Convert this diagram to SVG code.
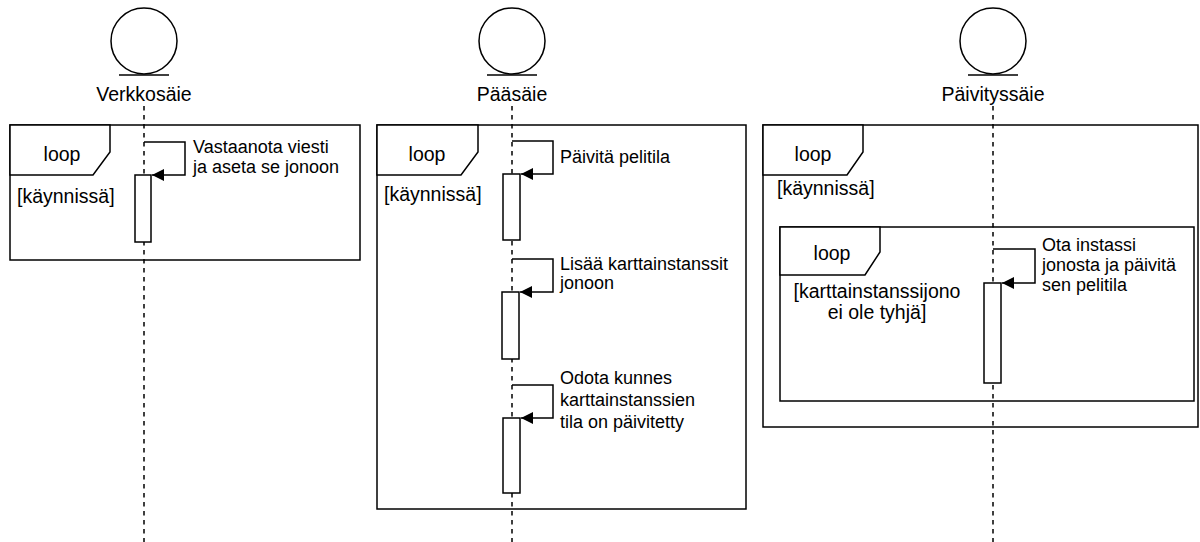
<svg xmlns="http://www.w3.org/2000/svg" width="1200" height="542" viewBox="0 0 1200 542">
  <style>
    text { font-family: "Liberation Sans", Arial, Helvetica, sans-serif; font-size: 18px; fill: #000; }
    .big { font-size: 19.5px; }
    .mid { text-anchor: middle; }
    .frame { fill: none; stroke: #000; stroke-width: 1.5; }
    .tab { fill: #fff; stroke: #000; stroke-width: 1.5; }
    .life { fill: none; stroke: #000; stroke-width: 1.5; stroke-dasharray: 4.5 4.5; }
    .head { fill: #fff; stroke: #000; stroke-width: 1.5; }
    .act { fill: #fff; stroke: #000; stroke-width: 1.5; }
    .msg { fill: none; stroke: #000; stroke-width: 1.5; }
  </style>
  <defs>
    <marker id="arrow" viewBox="0 0 12 12" refX="12" refY="6" markerWidth="12" markerHeight="12" markerUnits="userSpaceOnUse" orient="auto">
      <path d="M0,0 L12,6 L0,12 Z" fill="#000"/>
    </marker>
  </defs>
  <rect width="1200" height="542" fill="#fff"/>

  <!-- combined fragments (loop frames) -->
  <g id="frame-verkko">
    <rect class="frame" x="10" y="125" width="350" height="135"/>
    <path class="tab" d="M10,125 H110 V152 L93,175 H10 Z"/>
    <text class="mid big" x="62" y="161">loop</text>
    <text class="big" x="17" y="203">[käynnissä]</text>
  </g>
  <g id="frame-paa">
    <rect class="frame" x="377" y="125" width="369" height="384"/>
    <path class="tab" d="M377,125 H478 V152 L461,175 H377 Z"/>
    <text class="mid big" x="427" y="161">loop</text>
    <text class="big" x="384" y="201">[käynnissä]</text>
  </g>
  <g id="frame-paivitys">
    <rect class="frame" x="763" y="125" width="435" height="302"/>
    <path class="tab" d="M763,125 H863 V152 L847,175 H763 Z"/>
    <text class="mid big" x="813" y="161">loop</text>
    <text class="big" x="777" y="195">[käynnissä]</text>
  </g>
  <g id="frame-jono">
    <rect class="frame" x="780" y="227" width="414" height="174"/>
    <path class="tab" d="M780,227 H880 V252 L865,275 H780 Z"/>
    <text class="mid big" x="832" y="260">loop</text>
    <text class="mid big" x="877" y="298">[karttainstanssijono</text>
    <text class="mid big" x="877" y="319">ei ole tyhjä]</text>
  </g>

  <!-- lifelines -->
  <g id="lifeline-verkkosaie">
    <line class="life" x1="144" y1="106" x2="144" y2="542"/>
    <circle class="head" cx="144" cy="41" r="33"/>
    <line class="msg" x1="119" y1="75" x2="169" y2="75"/>
    <text class="mid big" x="144" y="101">Verkkosäie</text>
  </g>
  <g id="lifeline-paasaie">
    <line class="life" x1="512" y1="106" x2="512" y2="542"/>
    <circle class="head" cx="512" cy="41" r="33"/>
    <line class="msg" x1="487" y1="75" x2="537" y2="75"/>
    <text class="mid big" x="512" y="101">Pääsäie</text>
  </g>
  <g id="lifeline-paivityssaie">
    <line class="life" x1="993" y1="106" x2="993" y2="542"/>
    <circle class="head" cx="993" cy="41" r="33"/>
    <line class="msg" x1="968" y1="75" x2="1018" y2="75"/>
    <text class="mid big" x="993" y="101">Päivityssäie</text>
  </g>

  <!-- activation bars -->
  <g id="activations">
    <rect class="act" x="135" y="175" width="16" height="67"/>
    <rect class="act" x="503" y="174" width="17" height="66"/>
    <rect class="act" x="502" y="292" width="17" height="67"/>
    <rect class="act" x="503" y="418" width="17" height="75"/>
    <rect class="act" x="984" y="283" width="17" height="100"/>
  </g>

  <!-- self messages -->
  <g id="connectors">
    <path class="msg" d="M144,142 H185 V175 H152" marker-end="url(#arrow)"/>
    <path class="msg" d="M512,141 H553 V174 H521" marker-end="url(#arrow)"/>
    <path class="msg" d="M512,259 H553 V292 H520" marker-end="url(#arrow)"/>
    <path class="msg" d="M512,385 H553 V418 H521" marker-end="url(#arrow)"/>
    <path class="msg" d="M993,249 H1035 V283 H1002" marker-end="url(#arrow)"/>
  </g>

  <!-- message labels -->
  <g id="labels">
    <text x="193" y="153">Vastaanota viesti</text>
    <text x="193" y="173">ja aseta se jonoon</text>
    <text x="560" y="163">Päivitä pelitila</text>
    <text x="560" y="270">Lisää karttainstanssit</text>
    <text x="560" y="289">jonoon</text>
    <text x="560" y="384">Odota kunnes</text>
    <text x="560" y="406">karttainstanssien</text>
    <text x="560" y="428">tila on päivitetty</text>
    <text x="1042" y="251">Ota instassi</text>
    <text x="1042" y="271">jonosta ja päivitä</text>
    <text x="1042" y="291">sen pelitila</text>
  </g>
</svg>
